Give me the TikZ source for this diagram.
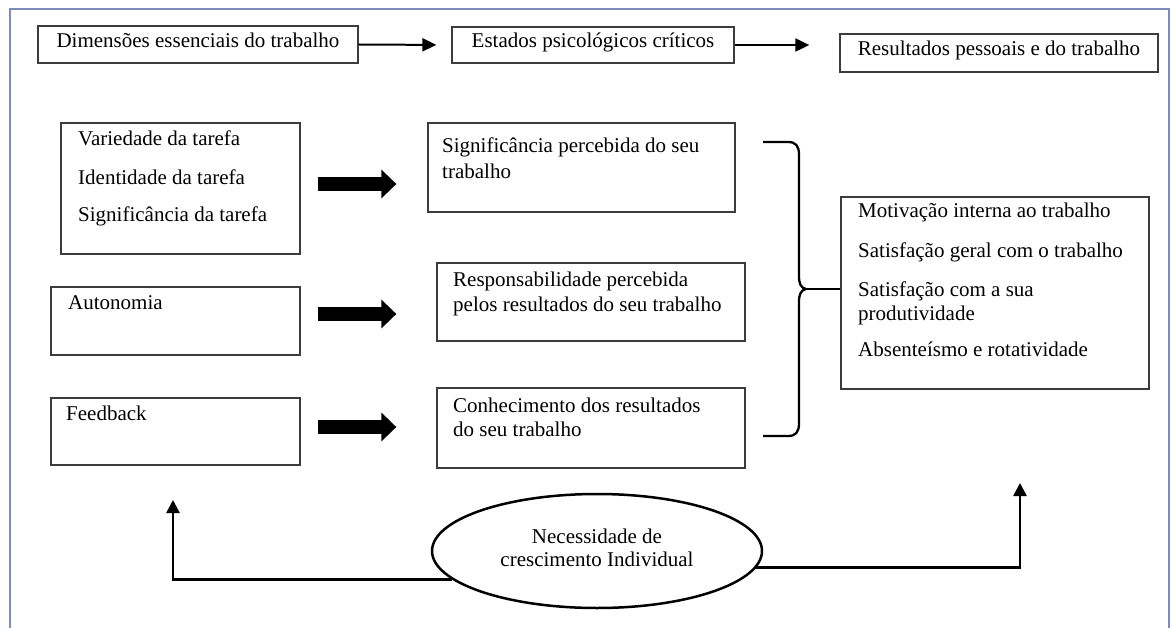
\documentclass[tikz,border=0pt]{standalone}
\usepackage{fontspec}
\setmainfont{Liberation Serif}
\usetikzlibrary{arrows.meta,shapes.geometric,fit}
\definecolor{framecol}{RGB}{125,140,185}
\definecolor{boxgray}{RGB}{60,60,60}
\begin{document}
\begin{tikzpicture}[x=1pt,y=-1pt,
  box/.style={draw=boxgray, line width=1.3pt, inner sep=0pt},
  txt/.style={font=\fontsize{21}{24}\selectfont, inner sep=0pt, text height=0.8em, text depth=0.2em, anchor=west},
  ctxt/.style={font=\fontsize{21}{24}\selectfont, inner sep=0pt, text height=0.8em, text depth=0.2em},
  thin arrow/.style={line width=2pt, -{Triangle[length=14pt,width=13pt]}},
  fat/.style={line width=14pt, -{Triangle[length=15pt,width=28pt]}},
  conn/.style={line width=2.5pt, -{Triangle[length=13pt,width=13pt]}},
  bracestyle/.style={line width=2.3pt, line join=round}
]
\useasboundingbox (0,0) rectangle (1172,628);
% outer frame
\draw[framecol, line width=1.2pt] (10,628) -- (10,9) -- (1169,9) -- (1169,628);

% top row
\node[box, fit={(38,26) (358,63)}] (b1) {};
\node[ctxt] (b1t) at (b1.center) {Dimensões essenciais do trabalho};
\node[box, fit={(452,27) (734,63)}] (b2) {};
\node[ctxt] (b2t) at (b2.center) {Estados psicológicos críticos};
\node[box, fit={(840,34) (1158,72)}] (b3) {};
\node[ctxt] (b3t) at (b3.center) {Resultados pessoais e do trabalho};
\draw[thin arrow, shorten >=15pt] (b1.east) -- (b2.west);
\draw[thin arrow, shorten >=30pt] (b2.east) -- (b2.east -| b3.west);

% left column
\node[box, fit={(61,123) (300,254)}] (l1) {};
\node[txt] (l1a) at (78,143) {Variedade da tarefa};
\node[txt] (l1b) at (78,182) {Identidade da tarefa};
\node[txt] (l1c) at (78,219) {Significância da tarefa};
\node[box, fit={(51,287) (300,355)}] (l2) {};
\node[txt] (l2a) at (68,306) {Autonomia};
\node[box, fit={(51,398) (300,465)}] (l3) {};
\node[txt] (l3a) at (66,417) {Feedback};

% middle column
\node[box, fit={(428,123) (735,212)}] (m1) {};
\node[txt] (m1a) at (442,150) {Significância percebida do seu};
\node[txt] (m1b) at (442,176) {trabalho};
\node[box, fit={(437,263) (745,341)}] (m2) {};
\node[txt] (m2a) at (453,284) {Responsabilidade percebida};
\node[txt] (m2b) at (453,308) {pelos resultados do seu trabalho};
\node[box, fit={(437,388) (745,468)}] (m3) {};
\node[txt] (m3a) at (453,409) {Conhecimento dos resultados};
\node[txt] (m3b) at (453,433) {do seu trabalho};

% fat arrows
\draw[fat, shorten <=17pt, shorten >=31pt] (l1.east |- 0,184) -- (m1.west |- 0,184);
\draw[fat, shorten <=17pt, shorten >=40pt] (l2.east |- 0,314) -- (m2.west |- 0,314);
\draw[fat, shorten <=17pt, shorten >=40pt] (l3.east |- 0,427) -- (m3.west |- 0,427);

% right box
\node[box, fit={(841,197) (1149,389)}] (r) {};
\node[txt] (ra) at (858,215) {Motivação interna ao trabalho};
\node[txt] (rb) at (858,255) {Satisfação geral com o trabalho};
\node[txt] (rc) at (858,294) {Satisfação com a sua};
\node[txt] (rd) at (858,317) {produtividade};
\node[txt] (re) at (858,353) {Absenteísmo e rotatividade};

% brace
\draw[bracestyle] (763,142) -- (788,142) .. controls (796,142) and (799,146) .. (799,155)
  -- (799,276) .. controls (799,284) and (801,288) .. (806,289)
  .. controls (801,290) and (799,294) .. (799,302)
  -- (799,423) .. controls (799,432) and (796,436) .. (788,436) -- (763,436);
\coordinate (btip) at (806,289);
\draw[line width=2.3pt] (btip) -- (btip -| r.west);

% ellipse
\node[ellipse, draw, line width=2.5pt, minimum width=330pt, minimum height=114pt, inner sep=0pt] (ell) at (597,551) {};
\node[ctxt] (ella) at (597,540) {Necessidade de};
\node[ctxt] (ellb) at (597,563) {crescimento Individual};

% feedback connectors
\coordinate (lt) at (173,500);
\coordinate (rt) at (1020,483);
\draw[conn] (ell.191) -| (lt);
\draw[conn] (ell.354) -| (rt);
\end{tikzpicture}
\end{document}
